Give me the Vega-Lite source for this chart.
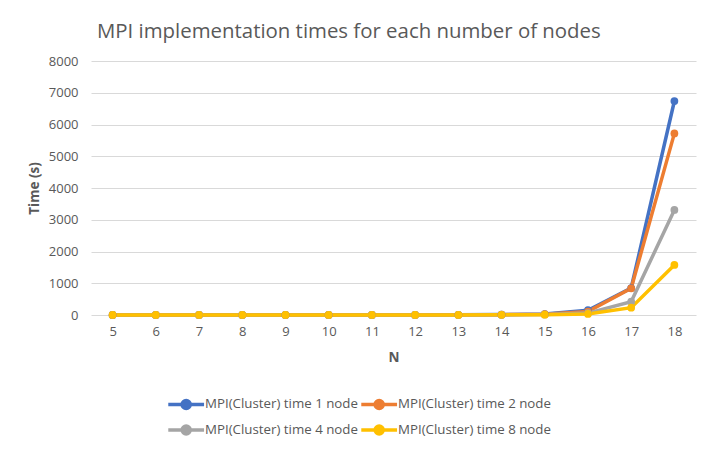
{
  "$schema": "https://vega.github.io/schema/vega-lite/v6.json",
  "width": 605,
  "height": 254,
  "autosize": "none",
  "padding": {"left": 91, "top": 61, "right": 21, "bottom": 141},
  "background": "white",
  "config": {
    "font": "Open Sans",
    "view": {"stroke": null},
    "axis": {"labelColor": "#595959", "titleColor": "#595959", "labelFont": "Open Sans", "titleFont": "Open Sans"}
  },
  "title": {
    "text": "MPI implementation times for each number of nodes",
    "anchor": "start",
    "frame": "group",
    "dx": 6,
    "offset": 13,
    "fontSize": 20.4,
    "fontWeight": "normal",
    "color": "#595959",
    "font": "Open Sans"
  },
  "data": {
    "values": [
      {"N": 5, "series": "MPI(Cluster) time 1 node", "t": 1},
      {"N": 6, "series": "MPI(Cluster) time 1 node", "t": 1},
      {"N": 7, "series": "MPI(Cluster) time 1 node", "t": 1},
      {"N": 8, "series": "MPI(Cluster) time 1 node", "t": 1},
      {"N": 9, "series": "MPI(Cluster) time 1 node", "t": 1},
      {"N": 10, "series": "MPI(Cluster) time 1 node", "t": 1},
      {"N": 11, "series": "MPI(Cluster) time 1 node", "t": 2},
      {"N": 12, "series": "MPI(Cluster) time 1 node", "t": 3},
      {"N": 13, "series": "MPI(Cluster) time 1 node", "t": 6},
      {"N": 14, "series": "MPI(Cluster) time 1 node", "t": 12},
      {"N": 15, "series": "MPI(Cluster) time 1 node", "t": 30},
      {"N": 16, "series": "MPI(Cluster) time 1 node", "t": 150},
      {"N": 17, "series": "MPI(Cluster) time 1 node", "t": 850},
      {"N": 18, "series": "MPI(Cluster) time 1 node", "t": 6740},
      {"N": 5, "series": "MPI(Cluster) time 2 node", "t": 1},
      {"N": 6, "series": "MPI(Cluster) time 2 node", "t": 1},
      {"N": 7, "series": "MPI(Cluster) time 2 node", "t": 1},
      {"N": 8, "series": "MPI(Cluster) time 2 node", "t": 1},
      {"N": 9, "series": "MPI(Cluster) time 2 node", "t": 1},
      {"N": 10, "series": "MPI(Cluster) time 2 node", "t": 1},
      {"N": 11, "series": "MPI(Cluster) time 2 node", "t": 2},
      {"N": 12, "series": "MPI(Cluster) time 2 node", "t": 3},
      {"N": 13, "series": "MPI(Cluster) time 2 node", "t": 5},
      {"N": 14, "series": "MPI(Cluster) time 2 node", "t": 10},
      {"N": 15, "series": "MPI(Cluster) time 2 node", "t": 25},
      {"N": 16, "series": "MPI(Cluster) time 2 node", "t": 110},
      {"N": 17, "series": "MPI(Cluster) time 2 node", "t": 840},
      {"N": 18, "series": "MPI(Cluster) time 2 node", "t": 5720},
      {"N": 5, "series": "MPI(Cluster) time 4 node", "t": 1},
      {"N": 6, "series": "MPI(Cluster) time 4 node", "t": 1},
      {"N": 7, "series": "MPI(Cluster) time 4 node", "t": 1},
      {"N": 8, "series": "MPI(Cluster) time 4 node", "t": 1},
      {"N": 9, "series": "MPI(Cluster) time 4 node", "t": 1},
      {"N": 10, "series": "MPI(Cluster) time 4 node", "t": 1},
      {"N": 11, "series": "MPI(Cluster) time 4 node", "t": 1},
      {"N": 12, "series": "MPI(Cluster) time 4 node", "t": 2},
      {"N": 13, "series": "MPI(Cluster) time 4 node", "t": 3},
      {"N": 14, "series": "MPI(Cluster) time 4 node", "t": 6},
      {"N": 15, "series": "MPI(Cluster) time 4 node", "t": 15},
      {"N": 16, "series": "MPI(Cluster) time 4 node", "t": 60},
      {"N": 17, "series": "MPI(Cluster) time 4 node", "t": 420},
      {"N": 18, "series": "MPI(Cluster) time 4 node", "t": 3310},
      {"N": 5, "series": "MPI(Cluster) time 8 node", "t": 1},
      {"N": 6, "series": "MPI(Cluster) time 8 node", "t": 1},
      {"N": 7, "series": "MPI(Cluster) time 8 node", "t": 1},
      {"N": 8, "series": "MPI(Cluster) time 8 node", "t": 1},
      {"N": 9, "series": "MPI(Cluster) time 8 node", "t": 1},
      {"N": 10, "series": "MPI(Cluster) time 8 node", "t": 1},
      {"N": 11, "series": "MPI(Cluster) time 8 node", "t": 1},
      {"N": 12, "series": "MPI(Cluster) time 8 node", "t": 1},
      {"N": 13, "series": "MPI(Cluster) time 8 node", "t": 2},
      {"N": 14, "series": "MPI(Cluster) time 8 node", "t": 4},
      {"N": 15, "series": "MPI(Cluster) time 8 node", "t": 10},
      {"N": 16, "series": "MPI(Cluster) time 8 node", "t": 35},
      {"N": 17, "series": "MPI(Cluster) time 8 node", "t": 230},
      {"N": 18, "series": "MPI(Cluster) time 8 node", "t": 1575}
    ]
  },
  "encoding": {
    "x": {
      "field": "N",
      "type": "ordinal",
      "title": "N",
      "scale": {"paddingInner": 0, "paddingOuter": 0.5},
      "axis": {
        "labelAngle": 0,
        "labelFontSize": 13,
        "labelPadding": 10,
        "ticks": false,
        "domain": false,
        "titleFontSize": 13.5,
        "titleFontWeight": "bold",
        "titlePadding": 12
      }
    },
    "y": {
      "field": "t",
      "type": "quantitative",
      "title": "Time (s)",
      "scale": {"domain": [0, 8000], "nice": false},
      "axis": {
        "values": [0, 1000, 2000, 3000, 4000, 5000, 6000, 7000, 8000],
        "format": "d",
        "labelFontSize": 13,
        "labelPadding": 13,
        "ticks": false,
        "domain": false,
        "grid": true,
        "gridColor": "#D9D9D9",
        "gridWidth": 1,
        "titleFontSize": 13.5,
        "titleFontWeight": "bold",
        "titlePadding": 7
      }
    },
    "color": {
      "field": "series",
      "type": "nominal",
      "scale": {
        "domain": ["MPI(Cluster) time 1 node", "MPI(Cluster) time 2 node", "MPI(Cluster) time 4 node", "MPI(Cluster) time 8 node"],
        "range": ["#4472C4", "#ED7D31", "#A5A5A5", "#FFC000"]
      },
      "legend": {
        "title": null,
        "orient": "none",
        "legendX": 90,
        "legendY": 330,
        "direction": "horizontal",
        "columns": 2,
        "columnPadding": -4,
        "rowPadding": 1,
        "labelFontSize": 13.3,
        "labelColor": "#595959",
        "labelOffset": -2,
        "symbolType": "M-2.3,0H0.9M-1.06,0a0.36,0.36 0 1,0 0.72,0a0.36,0.36 0 1,0 -0.72,0",
        "symbolSize": 500,
        "symbolStrokeWidth": 3.5
      }
    },
    "order": {"field": "series"}
  },
  "layer": [
    {"mark": {"type": "line", "strokeWidth": 3.5}},
    {"mark": {"type": "point", "filled": true, "size": 60, "opacity": 1}}
  ]
}
